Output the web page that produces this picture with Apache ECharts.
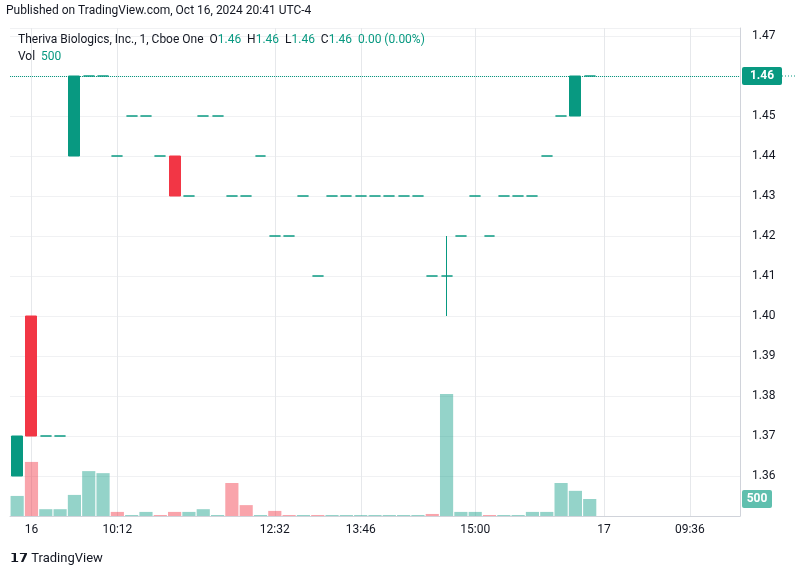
<!DOCTYPE html><html><head><meta charset="utf-8"><script src="https://cdn.jsdelivr.net/npm/echarts@6/dist/echarts.min.js"></script>
<style>body{margin:0}#c{width:804px;height:578px}</style></head><body><div id="c"></div><script>
const opens =[1.36,1.40,1.37,1.37,1.44,1.46,1.46,1.44,1.45,1.45,1.44,1.44,1.43,1.45,1.45,1.43,1.43,1.44,1.42,1.42,1.43,1.41,1.43,1.43,1.43,1.43,1.43,1.43,1.43,1.41,1.41,1.42,1.43,1.42,1.43,1.43,1.43,1.44,1.45,1.45,1.46];
const closes=[1.37,1.37,1.37,1.37,1.46,1.46,1.46,1.44,1.45,1.45,1.44,1.43,1.43,1.45,1.45,1.43,1.43,1.44,1.42,1.42,1.43,1.41,1.43,1.43,1.43,1.43,1.43,1.43,1.43,1.41,1.41,1.42,1.43,1.42,1.43,1.43,1.43,1.44,1.45,1.46,1.46];
const lows  =[1.36,1.37,1.37,1.37,1.44,1.46,1.46,1.44,1.45,1.45,1.44,1.43,1.43,1.45,1.45,1.43,1.43,1.44,1.42,1.42,1.43,1.41,1.43,1.43,1.43,1.43,1.43,1.43,1.43,1.41,1.40,1.42,1.43,1.42,1.43,1.43,1.43,1.44,1.45,1.45,1.46];
const highs =[1.37,1.40,1.37,1.37,1.46,1.46,1.46,1.44,1.45,1.45,1.44,1.44,1.43,1.45,1.45,1.43,1.43,1.44,1.42,1.42,1.43,1.41,1.43,1.43,1.43,1.43,1.43,1.43,1.43,1.41,1.42,1.42,1.43,1.42,1.43,1.43,1.43,1.44,1.45,1.46,1.46];
const volumes=[590,1590,200,200,620,1320,1260,120,30,120,30,120,120,200,30,970,320,30,150,30,30,30,30,30,30,30,30,30,30,60,3590,120,120,30,30,30,120,120,970,740,500];
const volDown=[0,1,0,0,0,0,0,1,0,0,1,1,0,0,0,1,1,0,1,1,0,1,0,0,0,0,0,0,0,1,0,0,0,1,0,0,0,0,0,0,0];
const tickLabels={1:'16',7:'10:12',18:'12:32',24:'13:46',32:'15:00',41:'17',47:'09:36'};
const N=51;
const cats=[];for(let i=0;i<N;i++)cats.push(String(i));
const UP='#089981',DN='#F23645';
const chart=echarts.init(document.getElementById('c'));
const font='Roboto, "DejaVu Sans", sans-serif';
chart.setOption({
 animation:false,
 grid:{left:10,right:64,top:28,bottom:62},
 xAxis:{type:'category',data:cats,boundaryGap:true,
  axisLine:{lineStyle:{color:'#d0d3da'}},axisTick:{show:false},
  axisLabel:{interval:(i)=>tickLabels[i]!==undefined,color:'#131722',fontSize:12,fontFamily:font,margin:8,formatter:(v,i)=>tickLabels[i]||''},
  splitLine:{show:false}},
 yAxis:[{type:'value',position:'right',min:1.35,max:1.472,interval:0.01,
  axisLine:{show:true,lineStyle:{color:'#d0d3da'}},axisTick:{show:false},
  axisLabel:{color:'#131722',fontSize:12,fontFamily:font,margin:12,formatter:v=>v<1.355||v>1.4705||Math.abs(v-1.46)<0.001?'':v.toFixed(2)},
  splitLine:{lineStyle:{color:'#f0f1f3'}}},
  {type:'value',min:0,max:14350,show:false,splitLine:{show:false}}],
 series:[
  {type:'bar',yAxisIndex:1,barCategoryGap:'8%',z:2,
   data:volumes.map((v,i)=>({value:v,itemStyle:{color:volDown[i]?'rgba(242,54,69,0.45)':'rgba(8,153,129,0.43)'}}))},
  {type:'candlestick',barWidth:'80%',z:3,
   data:opens.map((o,i)=>{const d=[o,closes[i],lows[i],highs[i]];return o===closes[i]?{value:d,itemStyle:{color:UP,color0:UP,borderColor:UP,borderColor0:UP}}:d;}),
   itemStyle:{color:UP,color0:DN,borderColor:UP,borderColor0:DN,borderWidth:1},
   markLine:{symbol:'none',silent:true,label:{show:false},lineStyle:{color:UP,type:'dotted',width:1},data:[{yAxis:1.46}]}}
 ]
});
const yP=chart.convertToPixel({yAxisIndex:0},1.46);
const yV=chart.convertToPixel({yAxisIndex:1},500);
const vlines=Object.keys(tickLabels).map(k=>{const x=Math.round(chart.convertToPixel({xAxisIndex:0},Number(k)))+0.5;
 return {type:'line',z:0,silent:true,shape:{x1:x,y1:28,x2:x,y2:516},style:{stroke:'#e6e8eb',lineWidth:1}};});
chart.setOption({graphic:vlines.concat([
 {type:'text',left:6,top:5,style:{text:'Published on TradingView.com, Oct 16, 2024 20:41 UTC-4',fill:'#131722',font:'12px '+font}},
 {type:'text',left:18,top:34,style:{rich:{a:{fill:'#131722',font:'12px '+font},g:{fill:UP,font:'12px '+font}},
  text:'{a|Theriva Biologics, Inc., 1, Cboe One  O}{g|1.46}{a|  H}{g|1.46}{a|  L}{g|1.46}{a|  C}{g|1.46}{g|  0.00 (0.00%)}'}},
 {type:'text',left:18,top:51,style:{rich:{a:{fill:'#131722',font:'12px '+font},g:{fill:UP,font:'12px '+font}},text:'{a|Vol}{g|  500}'}},
 {type:'line',shape:{x1:740,y1:yP,x2:796,y2:yP},style:{stroke:UP,lineDash:[1,2]}},
 {type:'rect',shape:{x:742,y:yP-9,width:40,height:18,r:2},style:{fill:UP}},
 {type:'text',x:762,y:yP,style:{text:'1.46',fill:'#fff',font:'bold 12px '+font,align:'center',verticalAlign:'middle'}},
 {type:'rect',shape:{x:742,y:yV-9,width:30,height:18,r:2},style:{fill:'#5fbfae'}},
 {type:'text',x:757,y:yV,style:{text:'500',fill:'#fff',font:'bold 12px '+font,align:'center',verticalAlign:'middle'}},
 {type:'text',left:10,top:552,style:{text:'𝟭𝟳 TradingView',fill:'#131722',font:'13px '+font}}
])});
</script></body></html>
